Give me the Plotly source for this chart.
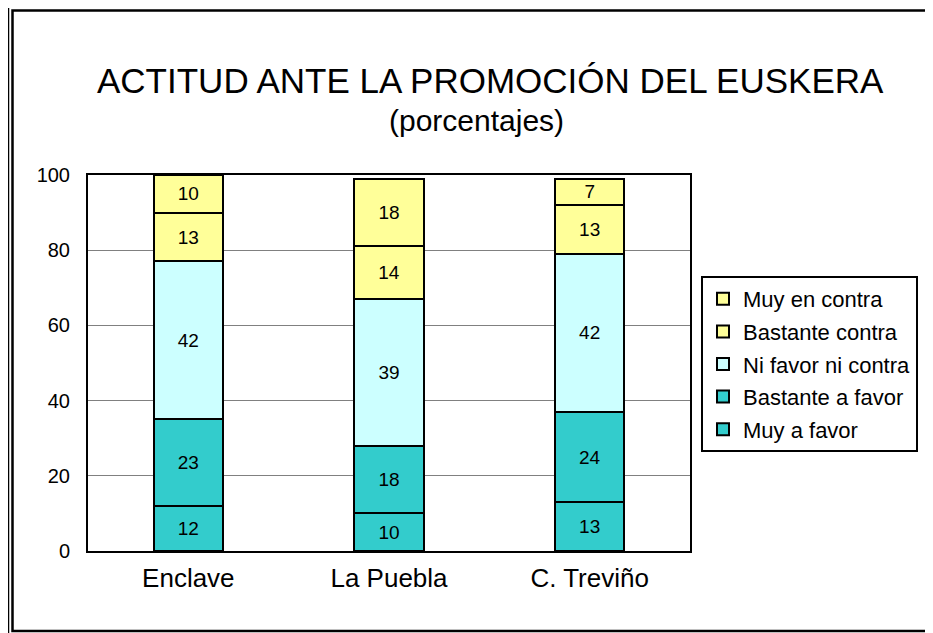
import plotly.graph_objects as go

# actitud ante la promocion del euskera (porcentajes)
zonas = ["Enclave", "La Puebla", "C. Treviño"]
series = ["Muy a favor", "Bastante a favor", "Ni favor ni contra", "Bastante contra", "Muy en contra"]
muy_a_favor = [12, 10, 13]
bastante_a_favor = [23, 18, 24]
ni_favor_ni_contra = [42, 39, 42]
bastante_contra = [13, 14, 13]
muy_en_contra = [10, 18, 7]
y_ticks = [0, 20, 40, 60, 80, 100]

valores = [muy_a_favor, bastante_a_favor, ni_favor_ni_contra, bastante_contra, muy_en_contra]
colores = ["#33CCCC", "#33CCCC", "#CCFFFF", "#FFFF99", "#FFFF99"]

# the page puts the figure 8px in from the corner, so work in screen px minus 8
OFF = 8
W, H = 933, 633
L, R, T, B = 88 - OFF, 690 - OFF, 175 - OFF, 551 - OFF


def px(x):
    return (x - OFF - L) / (R - L)


def py(y):
    return (B - (y - OFF)) / (B - T)


fig = go.Figure()
for i, (nombre, vals, col) in enumerate(zip(series, valores, colores)):
    fig.add_trace(go.Bar(
        x=zonas, y=vals, name=nombre, legendgroup=str(i),
        legendrank=len(series) - i,
        marker=dict(color=col, line=dict(color="black", width=2)),
        text=vals, textposition="inside", insidetextanchor="middle",
        textangle=0, textfont=dict(size=19, color="black"),
        constraintext="none",
    ))

fig.update_layout(
    barmode="stack", bargap=0.656,
    width=W, height=H,
    margin=dict(l=L, r=W - R, t=T, b=H - B),
    paper_bgcolor="white", plot_bgcolor="white",
    font=dict(family="Liberation Sans, Arial, sans-serif", color="black"),
    showlegend=True,
    legend=dict(
        x=px(701), y=py(276), xanchor="left", yanchor="top",
        bordercolor="black", borderwidth=2, bgcolor="white",
        font=dict(size=22), traceorder="grouped",
        itemwidth=30, tracegroupgap=1,
    ),
    uniformtext=dict(minsize=19, mode="show"),
)
fig.update_xaxes(
    showline=True, linecolor="black", linewidth=2, mirror=True,
    ticks="", tickfont=dict(size=26), ticklabelstandoff=3,
)
fig.update_yaxes(
    range=[0, 100], tickvals=y_ticks, showgrid=True, gridcolor="#808080",
    gridwidth=1, showline=True, linecolor="black", linewidth=2, mirror=True,
    ticks="", tickfont=dict(size=20), zeroline=False, ticklabelstandoff=12,
)

fig.add_annotation(
    text="ACTITUD ANTE LA PROMOCIÓN DEL EUSKERA", xref="paper", yref="paper",
    x=px(490), y=py(80), showarrow=False, font=dict(size=35),
    xanchor="center", yanchor="middle",
)
fig.add_annotation(
    text="(porcentajes)", xref="paper", yref="paper",
    x=px(476), y=py(120), showarrow=False, font=dict(size=30),
    xanchor="center", yanchor="middle",
)

# marco doble
fig.add_shape(type="rect", xref="paper", yref="paper",
              x0=px(8), x1=px(960), y0=py(6), y1=py(640),
              line=dict(color="black", width=2.5))
fig.add_shape(type="rect", xref="paper", yref="paper",
              x0=px(12.5), x1=px(950), y0=py(10.5), y1=py(631),
              line=dict(color="black", width=2.5))

fig.write_html("out.html")
